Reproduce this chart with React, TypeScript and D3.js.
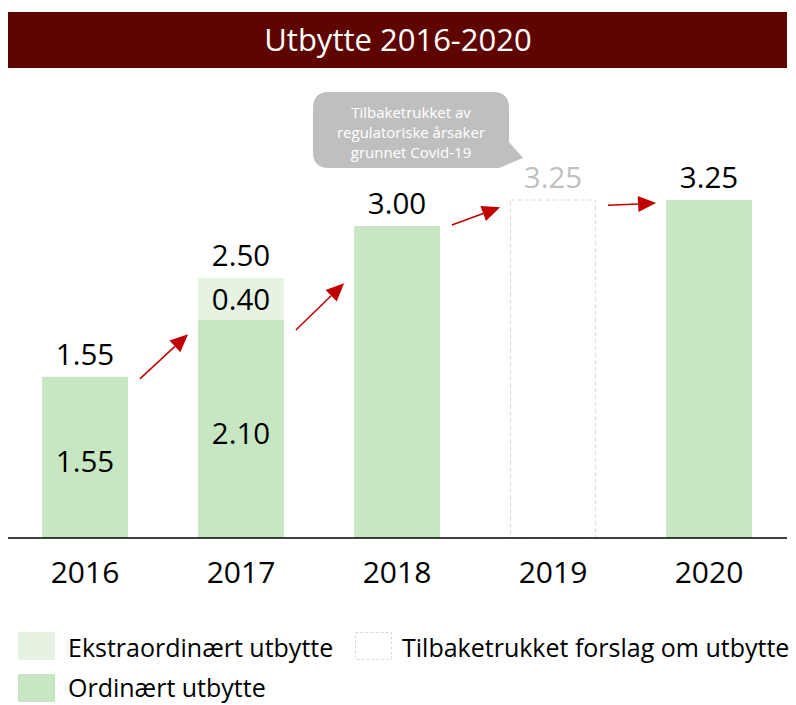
import React from "react";
import * as d3 from "d3";

const years = ["2016", "2017", "2018", "2019", "2020"];
const ordinary = [1.55, 2.1, 3.0, 0, 3.25];
const extraordinary = [0, 0.4, 0, 0, 0];
const withdrawn = [0, 0, 0, 3.25, 0];
const totalLabels = ["1.55", "2.50", "3.00", "3.25", "3.25"];
const ordinaryLabels = ["1.55", "2.10", "", "", ""];
const extraLabels = ["", "0.40", "", "", ""];
const arrowFrom = [1.53, 2.0, 3.01, 3.2];
const arrowTo = [1.96, 2.45, 3.18, 3.22];
const calloutLines = ["Tilbaketrukket av", "regulatoriske årsaker", "grunnet Covid-19"];
const legendItems = ["Ekstraordinært utbytte", "Tilbaketrukket forslag om utbytte", "Ordinært utbytte"];

const W = 796;
const H = 705;
const FONT = "'Open Sans', 'Noto Sans', sans-serif";
const GREEN = "#c6e7c1";
const LIGHT = "#e6f3e3";
const RED = "#c00000";

export default function App() {
  const x = d3.scaleBand().domain(years).range([7, 787]).paddingInner(0.45).paddingOuter(0.225);
  const y = d3.scaleLinear().domain([0, 3.25]).range([538, 200]);
  const bw = x.bandwidth();

  const arrows = arrowFrom.map((v, i) => {
    const x1 = (x(years[i]) as number) + bw + 12;
    const x2 = (x(years[i + 1]) as number) - 10;
    const y1 = y(v);
    const y2 = y(arrowTo[i]);
    const ang = Math.atan2(y2 - y1, x2 - x1);
    const hl = 18, hw = 8;
    const bx = x2 - hl * Math.cos(ang);
    const by = y2 - hl * Math.sin(ang);
    const px = -Math.sin(ang) * hw;
    const py = Math.cos(ang) * hw;
    return { x1, y1, bx, by, x2, y2, head: `M${x2},${y2}L${bx + px},${by + py}L${bx - px},${by - py}Z` };
  });

  const cx2019 = (x("2019") as number) + bw / 2;
  const cl = cx2019 - 240, cr = cx2019 - 44, ct = 92, cb = 168;

  return (
    <svg width={W} height={H} style={{ position: "absolute", left: 0, top: 0 }} fontFamily={FONT}>
      <rect x={8} y={12} width={779} height={56} fill="#5f0500" />
      <text x={W / 2} y={51} fill="#fff" fontSize={31} textAnchor="middle">Utbytte 2016-2020</text>

      {/* callout */}
      <path
        d={`M${cl + 16},${ct} H${cr - 16} Q${cr},${ct} ${cr},${ct + 16} V${ct + 50} L${cr + 14},${ct + 66} L${cr - 10},${cb} H${cl + 16} Q${cl},${cb} ${cl},${cb - 16} V${ct + 16} Q${cl},${ct} ${cl + 16},${ct} Z`}
        fill="#bfbfbf"
      />
      {calloutLines.map((t, i) => (
        <text key={t} x={(cl + cr) / 2} y={ct + 26 + i * 20} fill="#fff" fontSize={15} textAnchor="middle">{t}</text>
      ))}

      {years.map((yr, i) => {
        const bx = x(yr) as number;
        return (
          <g key={yr}>
            {ordinary[i] > 0 && <rect x={bx} y={y(ordinary[i])} width={bw} height={y(0) - y(ordinary[i])} fill={GREEN} />}
            {extraordinary[i] > 0 && (
              <rect x={bx} y={y(ordinary[i] + extraordinary[i])} width={bw} height={y(ordinary[i]) - y(ordinary[i] + extraordinary[i])} fill={LIGHT} />
            )}
            {withdrawn[i] > 0 && (
              <rect x={bx + 0.5} y={y(withdrawn[i])} width={bw - 1} height={y(0) - y(withdrawn[i])} fill="none" stroke="#d9d9d9" strokeDasharray="4,3" />
            )}
            {ordinaryLabels[i] && (
              <text x={bx + bw / 2} y={y(ordinary[i] / 2) + 15} fontSize={29.5} textAnchor="middle" fill="#000">{ordinaryLabels[i]}</text>
            )}
            {extraLabels[i] && (
              <text x={bx + bw / 2} y={y(ordinary[i] + extraordinary[i] / 2) + 11} fontSize={29.5} textAnchor="middle" fill="#000">{extraLabels[i]}</text>
            )}
            <text
              x={bx + bw / 2}
              y={y(ordinary[i] + extraordinary[i] + withdrawn[i]) - 12}
              fontSize={29.5}
              textAnchor="middle"
              fill={withdrawn[i] > 0 ? "#bfbfbf" : "#000"}
            >{totalLabels[i]}</text>
            <text x={bx + bw / 2} y={583} fontSize={30} textAnchor="middle" fill="#000">{yr}</text>
          </g>
        );
      })}

      <line x1={8} x2={787} y1={y(0)} y2={y(0)} stroke="#000" strokeWidth={1.5} />

      {arrows.map((a, i) => (
        <g key={i}>
          <line x1={a.x1} y1={a.y1} x2={a.bx} y2={a.by} stroke={RED} strokeWidth={1.5} />
          <path d={a.head} fill={RED} />
        </g>
      ))}

      {/* legend */}
      <rect x={18} y={632} width={37} height={28} fill={LIGHT} />
      <text x={68} y={657} fontSize={25} fill="#000">{legendItems[0]}</text>
      <rect x={355.5} y={632.5} width={36} height={27} fill="none" stroke="#d9d9d9" strokeDasharray="3,2" />
      <text x={402} y={657} fontSize={25} fill="#000">{legendItems[1]}</text>
      <rect x={18} y={674} width={37} height={28} fill={GREEN} />
      <text x={68} y={697} fontSize={25} fill="#000">{legendItems[2]}</text>
    </svg>
  );
}
